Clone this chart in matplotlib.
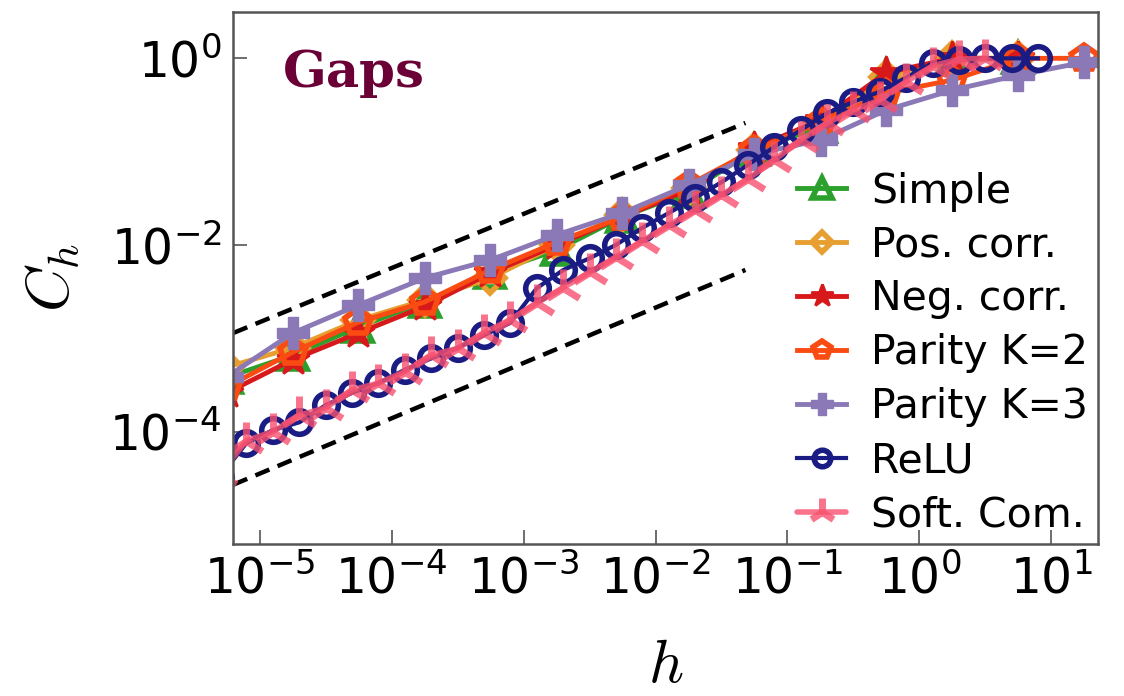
import matplotlib
matplotlib.use("Agg")
import matplotlib.pyplot as plt

plt.rcParams["mathtext.fontset"] = "cm"
plt.rcParams["font.family"] = ["DejaVu Sans"]

# h grid of the first five models (half-decade steps)
h_a = [5.6e-6, 1.78e-5, 5.6e-5, 1.78e-4, 5.6e-4, 1.78e-3, 5.6e-3,
       1.78e-2, 5.6e-2, 0.178, 0.56, 1.78, 5.6, 17.8]
simple = [3.8e-4, 6.6e-4, 1.32e-3, 2.45e-3, 5.0e-3, 8.8e-3, 2.0e-2,
          3.7e-2, 0.104, 0.184, 0.66, 0.97, 1.0]
pos_corr = [4.9e-4, 7.9e-4, 1.57e-3, 2.57e-3, 4.4e-3, 1.0e-2, 2.1e-2,
            4.1e-2, 0.104, 0.208, 0.63, 1.0, 1.0]
neg_corr = [2.6e-4, 5.9e-4, 1.14e-3, 2.2e-3, 5.0e-3, 1.0e-2, 2.0e-2,
            3.9e-2, 0.109, 0.218, 0.7, 1.0, 1.0]
parity2 = [3.0e-4, 7.1e-4, 1.49e-3, 2.45e-3, 5.4e-3, 1.07e-2, 2.0e-2,
           4.4e-2, 0.104, 0.208, 0.425, 0.585, 1.0, 1.0]
parity3 = [3.84e-4, 1.14e-3, 2.27e-3, 4.42e-3, 6.9e-3, 1.28e-2, 2.2e-2,
           4.4e-2, 9.4e-2, 0.133, 0.279, 0.457, 0.66, 0.91]

# finer h grid for ReLU / soft committee
h_b = [5.0e-6, 7.9e-6, 1.26e-5, 2.0e-5, 3.16e-5, 5.0e-5, 7.9e-5, 1.26e-4,
       2.0e-4, 3.16e-4, 5.0e-4, 7.9e-4, 1.26e-3, 2.0e-3, 3.16e-3, 5.0e-3,
       7.9e-3, 1.26e-2, 2.0e-2, 3.16e-2, 5.0e-2, 7.9e-2, 0.126, 0.2,
       0.316, 0.5, 0.79, 1.26, 2.0, 3.16, 5.0, 7.9]
relu = [3.3e-5, 7.5e-5, 1.04e-4, 1.26e-4, 1.92e-4, 2.6e-4, 3.3e-4, 4.6e-4,
        6.1e-4, 7.9e-4, 1.08e-3, 1.46e-3, 3.45e-3, 5.4e-3, 7.2e-3, 1.0e-2,
        1.52e-2, 2.2e-2, 3.2e-2, 4.7e-2, 7.2e-2, 0.112, 0.17, 0.26,
        0.34, 0.44, 0.62, 0.89, 0.96, 1.0, 1.0, 1.0]
soft_com = [3.5e-5, 8.0e-5, 1.0e-4, 1.5e-4, 1.8e-4, 2.8e-4, 3.3e-4, 4.4e-4,
            6.6e-4, 7.8e-4, 1.15e-3, 1.58e-3, 2.4e-3, 3.5e-3, 5.1e-3, 7.4e-3,
            1.1e-2, 1.63e-2, 2.36e-2, 3.45e-2, 5.1e-2, 8.1e-2, 0.133, 0.203,
            0.279, 0.357, 0.56, 0.83, 0.98, 1.0]

# guide lines (dashed)
guide_h = [6.3e-6, 4.8e-2]
guide_hi = [1.14e-3, 0.203]
guide_lo = [2.7e-5, 5.4e-3]

fig = plt.figure(figsize=(11.24, 6.96), dpi=100)
ax = fig.add_axes([0.2073, 0.2184, 0.7696, 0.7648])

ax.plot(guide_h, guide_hi, color="black", lw=3.2, dashes=(3.4, 2.0))
ax.plot(guide_h, guide_lo, color="black", lw=3.2, dashes=(3.4, 2.0))

lw = 3.5
ax.plot(h_a[:13], simple, color="#2ca02c", lw=lw, marker="^", ms=20,
        mfc="none", mew=4, label="Simple")
ax.plot(h_a[:13], pos_corr, color="#e69f30", lw=lw, marker="D", ms=15,
        mfc="none", mew=4, label="Pos. corr.")
ax.plot(h_a[:13], neg_corr, color="#d7191c", lw=lw, marker="*", ms=24,
        mew=2, label="Neg. corr.")
ax.plot(h_a, parity2, color="#fa4b12", lw=lw, marker="p", ms=19,
        mfc="none", mew=4, label="Parity K=2")
ax.plot(h_a, parity3, color="#8a79b6", lw=lw, marker="P", ms=23,
        mew=1, label="Parity K=3")
ax.plot(h_b, relu, color="#1b1b84", lw=3, marker="o", ms=17,
        mfc="none", mew=4, label="ReLU")
ax.plot(h_b[:30], soft_com, color="#f7506e", lw=lw + 0.5, marker="2", ms=28,
        mew=5, alpha=0.8, solid_capstyle="round", label="Soft. Com.")

ax.set_xscale("log")
ax.set_yscale("log")
ax.set_xlim(6.27e-6, 22.6)
ax.set_ylim(6.25e-6, 3.16)
ax.set_xticks([1e-5, 1e-4, 1e-3, 1e-2, 1e-1, 1e0, 1e1])
ax.set_yticks([1e-4, 1e-2, 1e0])
ax.minorticks_off()
ax.tick_params(direction="in", length=10, width=1.2, labelsize=35, pad=8,
               color="#555555")
for s in ax.spines.values():
    s.set_color("#555555")
    s.set_linewidth(1.8)

ax.set_xlabel(r"$h$", fontsize=44)
ax.set_ylabel(r"$C_h$", fontsize=44)
ax.xaxis.set_label_coords(0.5, -0.172)
ax.yaxis.set_label_coords(-0.175, 0.5)

ax.text(0.0575, 0.8585, "Gaps", transform=ax.transAxes, fontsize=37,
        fontweight="bold", family="DejaVu Serif", color="#6b0036",
        va="baseline", ha="left")

ax.legend(loc="center left", bbox_to_anchor=(0.652, 0.358), frameon=False,
          fontsize=29.5, markerscale=0.7, handlelength=1.2, handletextpad=0.6,
          labelspacing=0.34, borderpad=0, borderaxespad=0, numpoints=1)

fig.savefig("out.png", dpi=100)
